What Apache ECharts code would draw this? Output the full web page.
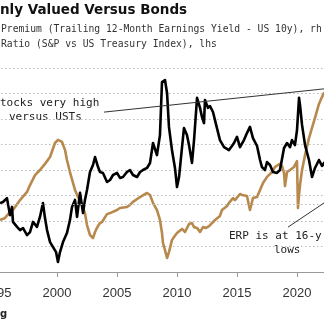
<!DOCTYPE html>
<html>
<head>
<meta charset="utf-8">
<script src="https://cdn.jsdelivr.net/npm/echarts@6/dist/echarts.min.js"></script>
<style>
html,body{margin:0;padding:0;background:#fff;overflow:hidden;width:324px;height:327px;position:relative;}
#c{position:absolute;left:-63px;top:0;width:420px;height:327px;}
</style>
</head>
<body>
<div id="c"></div>
<script>
// Ratio (S&P vs US Treasury Index), lhs
const ratioYears = [1995.25,1995.67,1996.08,1996.33,1996.92,1997.5,1997.75,1998.17,1998.58,1999.0,1999.42,1999.83,2000.08,2000.42,2000.67,2000.83,2001.08,2001.5,2001.75,2001.92,2002.08,2002.33,2002.5,2002.75,2003.0,2003.17,2003.33,2003.58,2003.75,2004.17,2004.42,2005.0,2005.25,2005.83,2006.08,2006.33,2006.92,2007.5,2007.75,2008.0,2008.33,2008.58,2008.75,2008.83,2009.0,2009.17,2009.33,2009.58,2009.75,2010.0,2010.42,2010.67,2011.0,2011.25,2011.42,2011.67,2011.92,2012.17,2012.42,2012.67,2013.17,2013.58,2013.75,2014.17,2014.33,2014.67,2014.83,2015.25,2015.42,2015.83,2016.08,2016.33,2016.67,2016.92,2017.17,2017.5,2017.92,2018.17,2018.58,2018.75,2018.92,2019.0,2019.17,2019.42,2019.75,2020.0,2020.08,2020.17,2020.25,2020.42,2020.67,2021.0,2021.25,2021.5,2021.83,2022.08,2022.25,2022.75,2023.25,2023.67];
const ratioValues = [2.04,2.12,2.35,2.43,2.82,3.14,3.41,3.80,4.00,4.24,4.51,5.06,5.18,5.10,4.78,4.39,3.92,3.22,2.94,2.82,2.63,2.31,1.84,1.45,1.33,1.57,1.73,1.92,1.96,2.27,2.31,2.43,2.51,2.55,2.63,2.75,2.94,3.10,3.02,2.71,2.43,2.04,1.53,1.14,0.86,0.55,0.78,1.25,1.37,1.53,1.69,1.57,1.88,1.92,1.76,1.73,1.57,1.76,1.73,1.80,2.04,2.20,2.43,2.59,2.71,2.90,2.82,3.06,3.02,2.98,2.43,2.90,2.94,3.22,3.49,3.73,3.92,4.12,4.24,4.16,3.88,3.37,3.92,4.00,4.12,4.35,2.51,3.02,3.41,4.00,4.59,5.25,5.65,6.04,6.59,6.86,7.02,7.06,7.14,7.22];

// Equity risk premium (Trailing 12-Month Earnings Yield - US 10y), rhs
const erpYears = [1995.25,1995.5,1995.83,1995.92,1996.08,1996.25,1996.33,1996.67,1996.92,1997.17,1997.5,1997.75,1998.0,1998.33,1998.58,1998.83,1999.0,1999.17,1999.42,1999.67,1999.92,2000.08,2000.25,2000.5,2000.83,2001.08,2001.25,2001.5,2001.67,2001.92,2002.17,2002.33,2002.5,2002.75,2003.0,2003.17,2003.42,2003.58,2003.83,2004.17,2004.42,2004.67,2005.0,2005.25,2005.5,2005.83,2006.08,2006.33,2006.67,2006.92,2007.17,2007.5,2007.75,2008.0,2008.33,2008.58,2008.75,2009.0,2009.17,2009.33,2009.58,2009.83,2010.0,2010.17,2010.42,2010.58,2010.83,2011.0,2011.25,2011.42,2011.67,2011.92,2012.08,2012.25,2012.33,2012.58,2012.75,2013.0,2013.33,2013.58,2013.92,2014.33,2014.58,2014.75,2015.0,2015.25,2015.58,2015.83,2016.08,2016.33,2016.67,2016.92,2017.08,2017.33,2017.5,2017.75,2018.0,2018.33,2018.58,2018.92,2019.17,2019.42,2019.58,2019.83,2020.0,2020.17,2020.25,2020.42,2020.67,2021.0,2021.25,2021.5,2021.83,2022.08,2022.25,2022.75,2023.25,2023.67];
const erpValues = [0.04,0.09,0.26,0.18,-0.49,-0.13,-0.79,-1.01,-1.15,-1.06,-1.37,-1.24,-0.79,-1.01,-0.57,0.04,-0.62,-1.15,-1.68,-1.90,-2.12,-2.56,-2.12,-1.68,-1.28,-0.71,-0.13,0.18,-0.57,0.49,-0.40,0.18,0.62,1.41,1.72,2.07,1.63,1.41,1.37,0.97,1.06,1.28,1.37,1.15,1.19,1.41,1.50,1.28,1.19,1.41,1.50,1.59,1.81,2.69,2.16,3.04,5.38,5.47,4.90,3.40,2.38,1.59,0.75,1.19,2.51,3.35,3.04,2.60,1.81,2.82,4.68,4.24,3.84,3.57,4.59,4.24,4.32,4.06,3.35,2.82,2.51,2.38,2.56,2.69,2.96,2.51,2.82,3.13,3.40,2.91,2.56,1.94,1.63,1.50,1.85,1.72,1.41,1.37,1.50,2.47,2.69,2.51,2.82,2.60,3.26,4.68,4.37,3.49,2.60,1.94,1.19,1.59,1.94,1.68,1.81,1.15,0.84,0.62];

// Tick labels / texts
const xTicks = {min: 1990, max: 2025, interval: 5};
const titleText = 'nly Valued Versus Bonds';
const legendLine1 = 'Premium (Trailing 12-Month Earnings Yield - US 10y), rh';
const legendLine2 = 'Ratio (S&P vs US Treasury Index), lhs';
const note1a = 'tocks very high';
const note1b = 'versus USTs';
const note2a = 'ERP is at 16-y';
const note2b = 'lows';
const sourceText = 'g';
// annotation leader anchors (data space)
const leader1 = [[2003.92, 6.27], [2023.42, 7.24]];
const leader2 = [[2019.25, -1.02], [2023.42, 0.46]];

const zip = (a, b) => a.map((v, i) => [v, b[i]]);
const TAN = '#b8894d';
const GRID = '#b9b9b9';
const MONO = '"DejaVu Sans Mono", "Liberation Mono", monospace';
const OX = 63; // container offset (the visible window starts 63px into the chart)

const chart = echarts.init(document.getElementById('c'), null, {renderer: 'canvas'});
chart.setOption({
  animation: false,
  backgroundColor: '#ffffff',
  grid: {left: 0, right: 0, top: 68, bottom: 55, containLabel: false, outerBoundsMode: 'none'},
  xAxis: {
    type: 'value', min: xTicks.min, max: xTicks.max, interval: xTicks.interval,
    offset: 8,
    axisLine: {show: true, lineStyle: {color: '#999', width: 1}},
    axisTick: {show: true, length: 5, lineStyle: {color: '#999'}},
    axisLabel: {color: '#333', fontSize: 13, fontFamily: '"Liberation Sans", Arial, sans-serif', margin: 7, formatter: v => String(v)},
    splitLine: {show: false}
  },
  yAxis: [
    {type: 'value', min: 0, max: 8, interval: 1,
     axisLine: {show: false}, axisTick: {show: false}, axisLabel: {show: false},
     splitLine: {show: true, lineStyle: {color: GRID, type: [1.5, 2.5], width: 1}}},
    {type: 'value', min: -3, max: 6, interval: 1,
     axisLine: {show: false}, axisTick: {show: false}, axisLabel: {show: false},
     splitLine: {show: false}}
  ],
  series: [
    {
      name: 'Ratio', type: 'line', yAxisIndex: 0, data: zip(ratioYears, ratioValues),
      showSymbol: false, symbol: 'none',
      lineStyle: {color: TAN, width: 2.6, join: 'round'},
      z: 2,
      markLine: {
        silent: true, symbol: 'none', label: {show: false},
        lineStyle: {color: '#333', width: 1, type: 'solid'},
        data: [[{coord: leader1[0]}, {coord: leader1[1]}]]
      }
    },
    {
      name: 'ERP', type: 'line', yAxisIndex: 1, data: zip(erpYears, erpValues),
      showSymbol: false, symbol: 'none',
      lineStyle: {color: '#000', width: 2.6, join: 'round'},
      z: 3,
      markLine: {
        silent: true, symbol: 'none', label: {show: false},
        data: [
          {yAxis: 0, lineStyle: {color: GRID, width: 1, type: [1.5, 2.5]}},
          [{coord: leader2[0], lineStyle: {color: '#333', width: 1, type: 'solid'}}, {coord: leader2[1]}]
        ]
      }
    }
  ],
  graphic: [
    {type: 'text', x: OX + 0, y: 3, style: {text: titleText, font: 'bold 13.5px "DejaVu Sans", sans-serif', fill: '#111', verticalAlign: 'top'}},
    {type: 'text', x: OX + 1, y: 24, scaleY: 1.12, style: {text: legendLine1, font: '9.7px ' + MONO, fill: '#333', verticalAlign: 'top'}},
    {type: 'text', x: OX + 1, y: 39, scaleY: 1.12, style: {text: legendLine2, font: '9.7px ' + MONO, fill: '#333', verticalAlign: 'top'}},
    {type: 'text', x: OX + 0, y: 98, style: {text: note1a, font: '11px ' + MONO, fill: '#222', verticalAlign: 'top'}},
    {type: 'text', x: OX + 9, y: 112, style: {text: note1b, font: '11px ' + MONO, fill: '#222', verticalAlign: 'top'}},
    {type: 'text', x: OX + 229, y: 231, style: {text: note2a, font: '11px ' + MONO, fill: '#222', verticalAlign: 'top'}},
    {type: 'text', x: OX + 274, y: 245, style: {text: note2b, font: '11px ' + MONO, fill: '#222', verticalAlign: 'top'}},
    {type: 'text', x: OX + 0, y: 309, style: {text: sourceText, font: 'bold 10px "DejaVu Sans", sans-serif', fill: '#222', verticalAlign: 'top'}}
  ]
});
</script>
</body>
</html>
